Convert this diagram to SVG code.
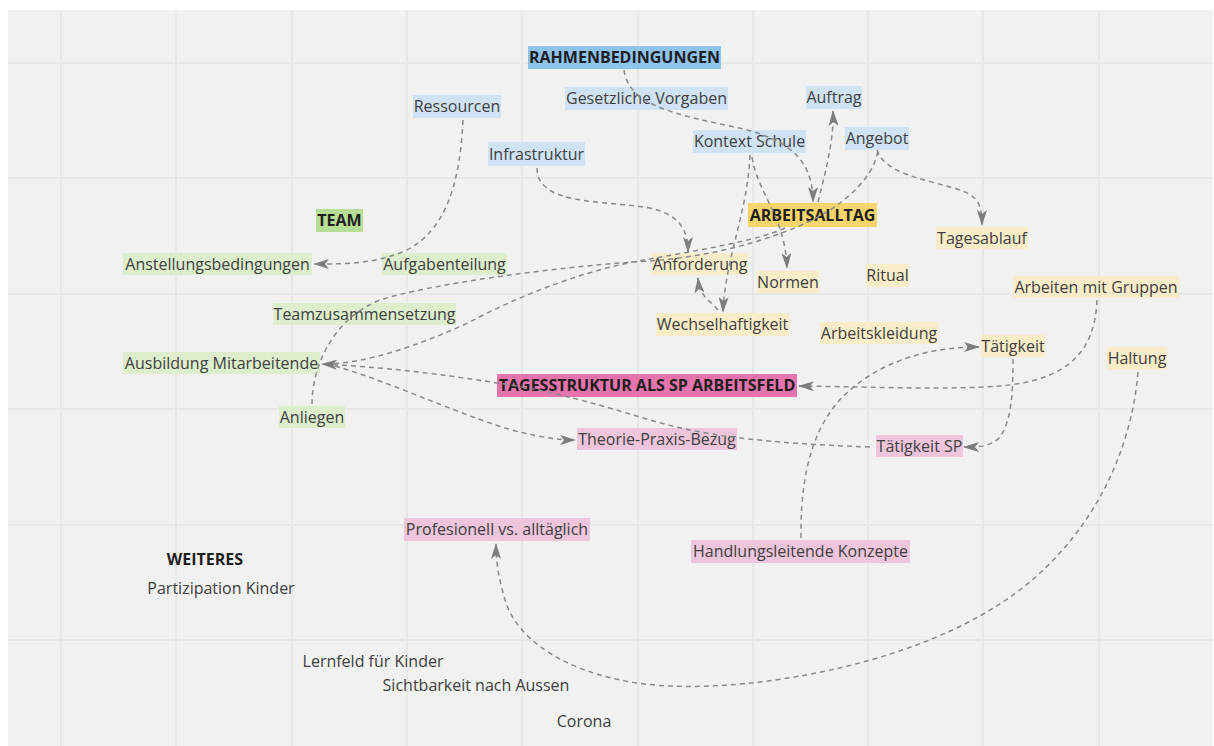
<svg xmlns="http://www.w3.org/2000/svg" width="1214" height="746" viewBox="0 0 1214 746">
<defs>
<style>
text{font-family:"Open Sans","Noto Sans","DejaVu Sans",sans-serif;font-size:16px;fill:#404040;text-anchor:middle}
.b{font-weight:bold;fill:#1e1e1e}
.grid{stroke:#e7e7e7;stroke-width:2}
.c{fill:none;stroke:#8a8a8a;stroke-width:1.5;stroke-dasharray:5 4}
.lb{fill:#cfe3f5}.db{fill:#8ec3ee}
.ly{fill:#f8edc8}.dy{fill:#f6d56c}
.lg{fill:#deeecd}.dg{fill:#b6df95}
.lp{fill:#efc5dc}.dp{fill:#e674ac}
</style>
<marker id="ah" viewBox="0 0 16 10" refX="15" refY="5" markerWidth="16" markerHeight="10" markerUnits="userSpaceOnUse" orient="auto">
<path d="M0,0 L16,5 L0,10 L4,5 Z" fill="#7d7d7d"/>
</marker>
</defs>
<rect x="0" y="0" width="1214" height="746" fill="#ffffff"/>
<rect x="8" y="10" width="1205" height="736" fill="#f1f1f1"/>
<g id="grid">
<path class="grid" d="M61,10V746M176,10V746M292,10V746M407,10V746M522,10V746M638,10V746M753,10V746M868,10V746M983,10V746M1099,10V746"/>
<path class="grid" d="M8,63H1213M8,178H1213M8,294H1213M8,409H1213M8,525H1213M8,640H1213"/>
</g>
<g id="nodes">
<g id="n-rahmen"><rect class="db" x="528" y="46" width="193" height="23"/><text class="b" x="624.5" y="63">RAHMENBEDINGUNGEN</text></g>
<g id="n-ressourcen"><rect class="lb" x="413" y="95" width="88" height="23"/><text x="457" y="112">Ressourcen</text></g>
<g id="n-gesetzliche"><rect class="lb" x="565" y="87" width="163" height="23"/><text x="646.5" y="104">Gesetzliche Vorgaben</text></g>
<g id="n-auftrag"><rect class="lb" x="806" y="86" width="56" height="23"/><text x="834" y="103">Auftrag</text></g>
<g id="n-kontext"><rect class="lb" x="693" y="130" width="113" height="23"/><text x="749.5" y="147">Kontext Schule</text></g>
<g id="n-angebot"><rect class="lb" x="845" y="127" width="64" height="23"/><text x="877" y="144">Angebot</text></g>
<g id="n-infra"><rect class="lb" x="488" y="142" width="97" height="24"/><text x="536.5" y="159.5">Infrastruktur</text></g>
<g id="n-arbeitsalltag"><rect class="dy" x="748" y="203" width="129" height="24"/><text class="b" x="812.5" y="220.5">ARBEITSALLTAG</text></g>
<g id="n-team"><rect class="dg" x="316" y="209" width="47" height="23"/><text class="b" x="339.5" y="226">TEAM</text></g>
<g id="n-anstellung"><rect class="lg" x="123" y="253" width="189" height="22"/><text x="217.5" y="269.5">Anstellungsbedingungen</text></g>
<g id="n-aufgaben"><rect class="lg" x="382" y="253" width="125" height="22"/><text x="444.5" y="269.5">Aufgabenteilung</text></g>
<g id="n-teamzus"><rect class="lg" x="273" y="303" width="183" height="22"/><text x="364.5" y="319.5">Teamzusammensetzung</text></g>
<g id="n-ausbildung"><rect class="lg" x="123" y="352" width="197" height="22"/><text x="221.5" y="368.5">Ausbildung Mitarbeitende</text></g>
<g id="n-anliegen"><rect class="lg" x="279" y="406" width="66" height="22"/><text x="312" y="422.5">Anliegen</text></g>
<g id="n-anforderung"><rect class="ly" x="652" y="253" width="96" height="22"/><text x="700" y="269.5">Anforderung</text></g>
<g id="n-normen"><rect class="ly" x="757" y="271" width="62" height="22"/><text x="788" y="287.5">Normen</text></g>
<g id="n-wechsel"><rect class="ly" x="656" y="313" width="133" height="23"/><text x="722.5" y="330">Wechselhaftigkeit</text></g>
<g id="n-tagesstruktur"><rect class="dp" x="497" y="374" width="300" height="23"/><text class="b" x="647" y="391">TAGESSTRUKTUR ALS SP ARBEITSFELD</text></g>
<g id="n-theorie"><rect class="lp" x="577" y="428" width="160" height="22"/><text x="657" y="444.5">Theorie-Praxis-Bezug</text></g>
<g id="n-tagesablauf"><rect class="ly" x="936" y="227" width="92" height="22"/><text x="982" y="243.5">Tagesablauf</text></g>
<g id="n-ritual"><rect class="ly" x="866" y="264" width="43" height="23"/><text x="887.5" y="281">Ritual</text></g>
<g id="n-gruppen"><rect class="ly" x="1013" y="276" width="166" height="22"/><text x="1096" y="292.5">Arbeiten mit Gruppen</text></g>
<g id="n-kleidung"><rect class="ly" x="820" y="322" width="118" height="22"/><text x="879" y="338.5">Arbeitskleidung</text></g>
<g id="n-taetigkeit"><rect class="ly" x="981" y="335" width="64" height="22"/><text x="1013" y="351.5">Tätigkeit</text></g>
<g id="n-haltung"><rect class="ly" x="1107" y="347" width="60" height="23"/><text x="1137" y="364">Haltung</text></g>
<g id="n-taetigkeitsp"><rect class="lp" x="876" y="435" width="87" height="22"/><text x="919.5" y="451.5">Tätigkeit SP</text></g>
<g id="n-profesionell"><rect class="lp" x="404" y="518" width="186" height="23"/><text x="497" y="535">Profesionell vs. alltäglich</text></g>
<g id="n-handlung"><rect class="lp" x="691" y="540" width="219" height="23"/><text x="800.5" y="557">Handlungsleitende Konzepte</text></g>
<g id="n-weiteres"><text class="b" x="205" y="564.5">WEITERES</text></g>
<g id="n-partizipation"><text x="221" y="593.5">Partizipation Kinder</text></g>
<g id="n-lernfeld"><text x="373" y="666.5">Lernfeld für Kinder</text></g>
<g id="n-sichtbarkeit"><text x="476" y="690.5">Sichtbarkeit nach Aussen</text></g>
<g id="n-corona"><text x="584" y="726.5">Corona</text></g>
</g>
<g id="connectors">
<path class="c" marker-end="url(#ah)" d="M624,70 C628,100 660,112 730,126 C790,138 813,160 813,202"/>
<path class="c" marker-end="url(#ah)" d="M818,202 C826,170 834,140 833,111"/>
<path class="c" marker-end="url(#ah)" d="M537,168 C537,205 600,200 650,208 C680,215 688,230 688,252"/>
<path class="c" marker-end="url(#ah)" d="M750,155 C748,210 725,260 723,312"/>
<path class="c" marker-end="url(#ah)" d="M752,157 C758,195 785,215 787,268"/>
<path class="c" marker-end="url(#ah)" d="M718,310 C710,300 700,298 698,278"/>
<path class="c" marker-end="url(#ah)" d="M877,150 C885,175 930,180 960,190 C978,196 982,205 982,225"/>
<path class="c" d="M312,404 C312,370 330,320 380,300 C430,284 560,266 650,261 C720,256 790,235 830,210 C860,190 875,170 878,150"/>
<path class="c" d="M785,228 C760,240 700,250 650,259 C590,268 520,295 470,322 C420,345 370,362 330,364"/>
<path class="c" marker-end="url(#ah)" d="M870,447 C760,443 700,435 650,420 C600,405 560,393 510,385 C460,377 400,368 322,364"/>
<path class="c" marker-end="url(#ah)" d="M335,366 C400,385 470,420 520,432 C545,438 560,440 575,440"/>
<path class="c" marker-end="url(#ah)" d="M463,120 C460,185 445,235 400,253 C370,264 345,264 314,264"/>
<path class="c" marker-end="url(#ah)" d="M1097,300 C1095,350 1070,380 1000,386 C950,390 880,387 799,386"/>
<path class="c" marker-end="url(#ah)" d="M801,538 C800,470 815,420 850,390 C885,360 930,347 979,347"/>
<path class="c" marker-end="url(#ah)" d="M1013,359 C1013,390 1012,420 1000,437 C990,447 980,447 964,447"/>
<path class="c" marker-end="url(#ah)" d="M1138,372 C1130,470 1075,560 990,610 C900,665 760,690 670,686 C590,683 520,650 505,600 C498,575 496,562 496,544"/>
</g>
</svg>
